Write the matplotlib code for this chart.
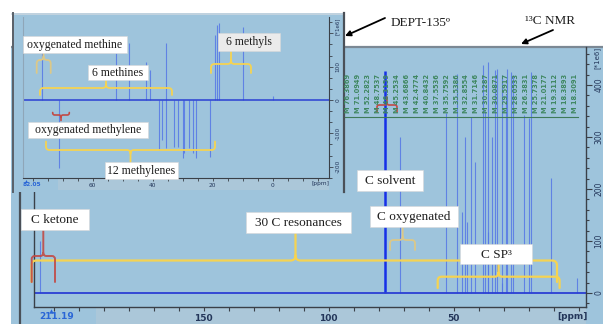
import numpy as np
import matplotlib
matplotlib.use("Agg")
import matplotlib.pyplot as plt
from matplotlib.patches import Rectangle, PathPatch
from matplotlib.path import Path
from matplotlib.ticker import MultipleLocator, FuncFormatter

# ---------------- data ----------------
# 13C NMR spectrum (main panel)
c13_ppm = [215.6, 71.4, 53.1, 48.7, 46.7, 45.6, 44.6, 43.1, 41.5, 38.2, 37.5,
           36.5, 36.2, 34.9, 33.5, 32.6, 30.8, 30.6, 29.2, 28.8, 27.0, 26.4,
           21.8, 20.0, 19.1, 11.1, 0.8]
c13_int = [100, 300, 346, 422, 156, 300, 137, 339, 252, 438, 350,
           445, 118, 300, 429, 430, 19, 420, 380, 430, 425, 420,
           342, 337, 424, 221, 29]
solvent_ppm = [77.5]
solvent_int = [426]
peak_labels = ["M 76.3869", "M 71.0949", "M 52.2823", "M 48.7537", "M 46.3159",
               "M 45.2534", "M 43.6866", "M 42.4774", "M 40.8432", "M 37.5536",
               "M 35.7592", "M 35.5386", "M 32.8554", "M 31.7146", "M 30.1287",
               "M 30.0871", "M 29.5917", "M 28.0533", "M 26.3831", "M 25.7378",
               "M 21.0177", "M 19.3112", "M 18.3893", "M 18.3091"]
c13_xticks = [200, 150, 100, 50, 0]
c13_xticklabels = ["", "150", "100", "50", ""]
c13_yticks = [0, 100, 200, 300, 400]

# DEPT-135 spectrum (inset)
dept_ppm = [77.0, 52.2, 47.9, 42.3, 40.9, 35.6, 19.3, 18.5, 17.9, 10.0, 0.0,
            71.1, 37.8, 37.0, 35.7, 32.9, 31.7, 30.0, 29.5, 28.0, 26.5, 25.6, 20.9]
dept_int = [145, 140, 170, 115, 90, 170, 195, 225, 230, 220, 12,
            -205, -150, -120, -145, -140, -140, -175, -160, -145, -160, -175, -170]
dept_xticks = [80, 60, 40, 20, 0]
dept_xticklabels = ["", "60", "40", "20", "0"]
dept_yticks = [-200, -100, 0, 100, 200]
dept_yticklabels = ["-200", "-100", "0", "100", ""]

# ---------------- styling ----------------
W, H, DPI = 603, 324, 100
BLUE = "#9ec4dc"
STRIP = "#abc7d9"
PEAK = "#5577e6"
BASE = "#2a3fd4"
YEL = "#f5d352"
RED = "#c24a45"
KHAKI = "#dcc888"
SERIF = "Liberation Serif"
TICKC = "#23365a"

fig = plt.figure(figsize=(W / DPI, H / DPI), dpi=DPI)
fig.patch.set_facecolor("white")


def px_axes(x0, y0, x1, y1, **kw):
    return fig.add_axes([x0 / W, 1 - y1 / H, (x1 - x0) / W, (y1 - y0) / H], **kw)


def full_axes(z):
    a = fig.add_axes([0, 0, 1, 1], zorder=z)
    a.set_xlim(0, W)
    a.set_ylim(H, 0)
    a.axis("off")
    a.patch.set_alpha(0)
    return a


# ---------- background / main panel ----------
bg = full_axes(0)
bg.add_patch(Rectangle((11, 47), W - 11, H - 47, fc=BLUE, ec="none"))
bg.add_patch(Rectangle((96, 308), 586 - 96, 16, fc=STRIP, ec="none"))
bg.plot([11, W], [47, 47], color="#7b8894", lw=1.6, solid_capstyle="butt")
bg.plot([19.5, 19.5], [190, H], color="#4a5058", lw=1.6)

# ---------- main 13C axes ----------
ax = px_axes(34, 47, 586, 306.7, zorder=1)
ax.set_facecolor("none")
ax.set_xlim(217.9, -2.9)
ax.set_ylim(-26.3, 473)
ax.vlines(c13_ppm, 0, c13_int, color=PEAK, lw=0.8, alpha=0.85)
ax.vlines(solvent_ppm, 0, solvent_int, color="#1630e8", lw=1.8)
ax.axhline(0, color=BASE, lw=1.3)
ax.spines["top"].set_visible(False)
for s in ("left", "bottom", "right"):
    ax.spines[s].set_color("#3a4048")
    ax.spines[s].set_linewidth(1.0)
ax.set_xticks(c13_xticks, labels=c13_xticklabels)
ax.xaxis.set_minor_locator(MultipleLocator(10))
ax.tick_params(axis="x", which="both", direction="out", length=3, width=0.8,
               colors="#3a4048", labelcolor=TICKC, labelsize=6.5, pad=2)
for t in ax.get_xticklabels():
    t.set_fontweight("bold")
ax.yaxis.tick_right()
ax.set_yticks(c13_yticks)
ax.yaxis.set_minor_locator(MultipleLocator(20))
ax.tick_params(axis="y", which="major", direction="out", length=4, width=0.8,
               colors="#3a4048", labelcolor=TICKC, labelsize=5.5, pad=2,
               labelrotation=90)
ax.tick_params(axis="y", which="minor", direction="out", length=2.5, width=0.8,
               colors="#3a4048")
for t in ax.get_yticklabels():
    t.set_va("center")

# ---------- inset panel ----------
ip = full_axes(2)
ip.add_patch(Rectangle((12, 13), 332, 179, fc=BLUE, ec="none"))
ip.add_patch(Rectangle((58, 179), 329 - 58, 11, fc=STRIP, ec="none"))
ip.plot([12, 344], [13.5, 13.5], color="#c8d6e0", lw=1.2)
ip.plot([12.5, 12.5], [13, 192], color="#5a6068", lw=1.4)
ip.plot([343.5, 343.5], [13, 192], color="#4a5058", lw=1.6)

ia = px_axes(22.7, 16.7, 329, 178, zorder=3)
ia.set_facecolor("none")
ia.set_xlim(83.3, -18.8)
ia.set_ylim(-234, 250)
ia.vlines(dept_ppm, 0, dept_int, color=PEAK, lw=0.8, alpha=0.85)
ia.axhline(0, color=BASE, lw=1.1)
ia.spines["top"].set_visible(False)
ia.spines["left"].set_color("#8fa6b8")
for s in ("bottom", "right"):
    ia.spines[s].set_color("#3a4048")
    ia.spines[s].set_linewidth(0.8)
ia.set_xticks(dept_xticks, labels=dept_xticklabels)
ia.xaxis.set_minor_locator(MultipleLocator(5))
ia.tick_params(axis="x", which="both", direction="out", length=2, width=0.6,
               colors="#3a4048", labelcolor=TICKC, labelsize=4.2, pad=1.5)
ia.yaxis.tick_right()
ia.set_yticks(dept_yticks, labels=dept_yticklabels)
ia.yaxis.set_minor_locator(MultipleLocator(100 / 3))
ia.tick_params(axis="y", which="major", direction="out", length=3, width=0.6,
               colors="#3a4048", labelcolor=TICKC, labelsize=4.2, pad=1.5,
               labelrotation=90)
ia.tick_params(axis="y", which="minor", direction="out", length=2, width=0.6,
               colors="#3a4048")
for t in ia.get_yticklabels():
    t.set_va("center")

# ---------- overlay annotations ----------
ov = full_axes(4)


def brace(x0, x1, ybar, yarm, xtip, ytip, color, lw=1.5, r=3.5, alpha=1.0):
    s = 1 if yarm > ybar else -1
    t = 1 if ytip > ybar else -1
    ra = min(r, abs(yarm - ybar) * 0.8)
    rt = min(r, abs(ytip - ybar) * 0.8)
    M, L, C = Path.MOVETO, Path.LINETO, Path.CURVE3
    v1 = [(x0, yarm), (x0, ybar + s * ra), (x0, ybar), (x0 + ra, ybar),
          (xtip - rt, ybar), (xtip, ybar), (xtip, ybar + t * rt), (xtip, ytip)]
    c1 = [M, L, C, C, L, C, C, L]
    v2 = [(xtip, ybar + t * rt), (xtip, ybar), (xtip + rt, ybar),
          (x1 - ra, ybar), (x1, ybar), (x1, ybar + s * ra), (x1, yarm)]
    c2 = [M, C, C, L, C, C, L]
    p = Path(v1 + v2, c1 + c2)
    ov.add_patch(PathPatch(p, fc="none", ec=color, lw=lw, alpha=alpha,
                           capstyle="round", joinstyle="round"))


def tbox(x0, y0, x1, y1, text, size, fc="white"):
    ov.add_patch(Rectangle((x0, y0), x1 - x0, y1 - y0, fc=fc, ec="#d8d8d8", lw=0.4))
    ov.text((x0 + x1) / 2, (y0 + y1) / 2 + 0.5, text, ha="center", va="center",
            fontsize=size, family=SERIF, color="#1e1e1e")


# inset annotations
brace(36.7, 50.7, 60, 73, 43.5, 53, KHAKI, lw=1.3)
brace(40, 172, 88, 95, 106, 80, YEL, lw=1.3)
brace(211, 251, 64, 73, 231, 51, YEL, lw=1.3)
brace(52.7, 69.3, 115, 112.5, 61, 120.5, RED, lw=1.2, r=2)
brace(46, 215, 150, 141.5, 130.5, 162, YEL, lw=1.3)
tbox(23, 36, 127, 53, "oxygenated methine", 8.5)
tbox(88, 65, 148, 80, "6 methines", 8.5)
tbox(218, 33, 280, 51, "6 methyls", 8.5, fc="#ebebeb")
tbox(28, 122, 148, 137.5, "oxygenated methylene", 8.5)
tbox(105, 162, 178, 178.5, "12 methylenes", 8.5)

# inset axis extras
ov.plot([26], [180.5], marker="^", ms=2.2, color="#2a66d6", mec="none")
ov.text(32, 184.5, "82.05", ha="center", va="center", fontsize=4.2,
        color="#2a66d6", fontweight="bold")
ov.text(320, 184, "[ppm]", ha="center", va="center", fontsize=4.2, color=TICKC)
ov.text(337, 26, "[*1e6]", ha="center", va="center", fontsize=4.0, color=TICKC,
        rotation=90)

# main axis extras
ov.plot([50.7], [310.5], marker="^", ms=3.2, color="#2a66d6", mec="none")
ov.text(57, 316.8, "211.19", ha="center", va="center", fontsize=6.5,
        color="#2a66d6", fontweight="bold")
ov.text(572, 316.8, "[ppm]", ha="center", va="center", fontsize=6.5,
        color=TICKC, fontweight="bold")
ov.text(597, 58, "[*1e6]", ha="center", va="center", fontsize=5.0,
        color=TICKC, rotation=90)

# peak picking labels
lab_x = np.linspace(348, 575, len(peak_labels))
for xx, lab in zip(lab_x, peak_labels):
    ov.text(xx, 113, lab, rotation=90, ha="center", va="bottom", fontsize=4.8,
            color="#3f8760", fontweight="bold")
ov.plot([345, 578], [117, 117], color="#3f7a58", lw=0.8)
brace(377, 397, 105, 112, 387, 97, RED, lw=1.2, r=2)

# main annotations
brace(31.5, 557, 260.5, 282, 295.5, 233, YEL, lw=1.6, r=5)
brace(31.7, 55, 256, 282, 43.3, 230, RED, lw=1.4, r=3, alpha=0.9)
brace(390, 415, 240, 250, 402.7, 227, KHAKI, lw=1.3)
brace(437.7, 559.6, 276.7, 288, 498.5, 264, YEL, lw=1.6, r=4)
tbox(21, 209, 89, 230, "C ketone", 9.5)
tbox(246, 212, 351, 233, "30 C resonances", 9.5)
tbox(370, 206, 458, 227, "C oxygenated", 9.5)
tbox(460, 244, 532, 264, "C SP\u00b3", 9.5)
tbox(357, 170, 423, 191, "C solvent", 9.5)

# top labels with arrows
ov.text(391, 23, "DEPT-135\u00ba", ha="left", va="center", fontsize=9.5,
        family=SERIF, color="#1e1e1e")
ov.annotate("", xy=(345, 36), xytext=(385, 18),
            arrowprops=dict(arrowstyle="-|>", color="black", lw=1.3,
                            mutation_scale=8, shrinkA=0, shrinkB=0))
ov.text(525, 21, "\u00b9\u00b3C NMR", ha="left", va="center", fontsize=9.5,
        family=SERIF, color="#1e1e1e")
ov.annotate("", xy=(521, 44), xytext=(553, 30),
            arrowprops=dict(arrowstyle="-|>", color="black", lw=1.3,
                            mutation_scale=8, shrinkA=0, shrinkB=0))

fig.savefig("out.png", dpi=DPI, facecolor="white")
